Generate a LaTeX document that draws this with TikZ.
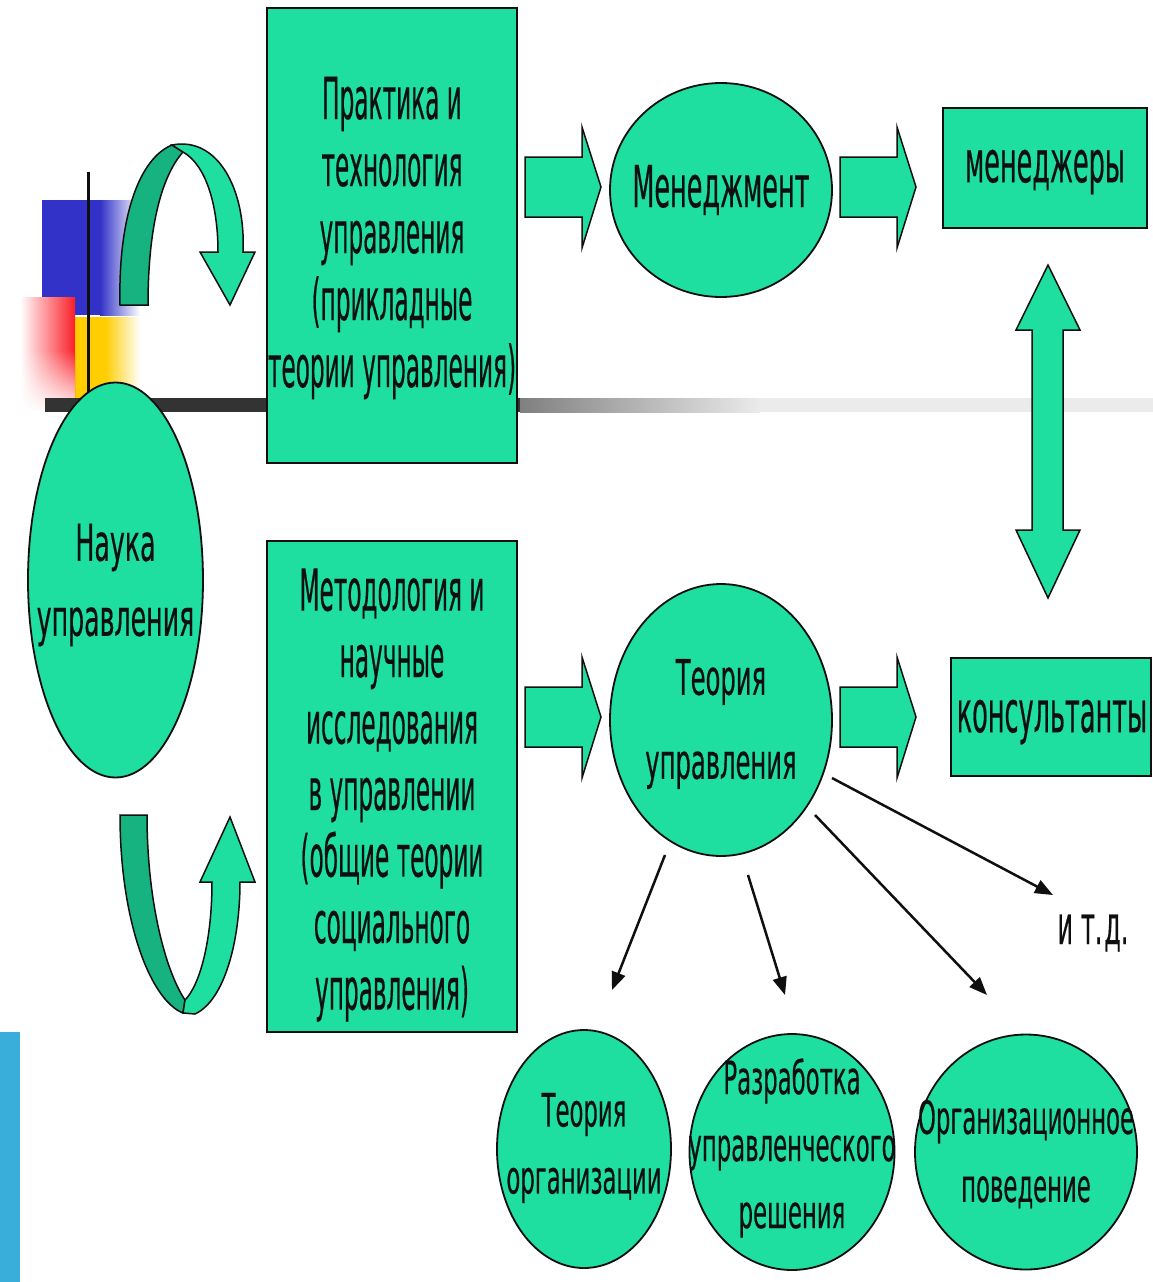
\documentclass[tikz,border=0pt]{standalone}
\usepackage{fontspec}
\setmainfont{DejaVu Sans}[FakeStretch=0.495,FakeBold=0.3]
\newfontfamily\FontBox{DejaVu Sans}[FakeStretch=0.40,FakeBold=0.3]
\newfontfamily\FontMen{DejaVu Sans}[FakeStretch=0.44,FakeBold=0.3]
\newfontfamily\FontCirc{DejaVu Sans}[FakeStretch=0.495,FakeBold=0.3]
\usetikzlibrary{shapes.geometric,arrows.meta,fadings}
\definecolor{mint}{RGB}{30,222,160}
\definecolor{mintdark}{RGB}{22,178,128}
\definecolor{ink}{RGB}{15,15,15}
\definecolor{dblue}{RGB}{50,50,200}
\definecolor{dred}{RGB}{250,30,40}
\definecolor{dyellow}{RGB}{255,205,0}
\definecolor{sideblue}{RGB}{58,174,219}
\begin{document}
\begin{tikzpicture}[x=1pt,y=-1pt,
  shapebox/.style={draw=ink, line width=1.8pt, fill=mint, rectangle, inner sep=0pt},
  oval/.style={draw=ink, line width=1.8pt, fill=mint, ellipse, inner sep=0pt},
  lbl/.style={text=ink, align=center, inner sep=0pt},
  blockarr/.style={draw=ink, line width=1.5pt, fill=mint, line join=miter},
  curvedark/.style={draw=ink, line width=1.5pt, fill=mintdark},
  thinarr/.style={draw=ink, line width=2.5pt, -{Triangle[length=18pt,width=14pt]}},
]
\fill[white] (0,0) rectangle (1153,1282);
\useasboundingbox (0,0) rectangle (1153,1282);

% side bar
\fill[sideblue] (0,1032) rectangle (20,1282);

% decoration squares
\fill[dblue] (42,200) rectangle (100,315);
\shade[left color=dblue, right color=white] (100,200) rectangle (140,315);
\fill[dyellow] (75,317) rectangle (105,420);
\shade[left color=dyellow, right color=white] (105,317) rectangle (140,420);
\shade[left color=white, right color=dred] (20,297) rectangle (75,410);
\fill[white, path fading=north] (20,350) rectangle (75,411);
\draw[ink, line width=3pt] (88,172) -- (88,400);
\fill[black!80] (45,398) rectangle (520,412);
\shade[left color=black!50, right color=black!8] (520,398) rectangle (760,412);
\fill[black!8] (760,398) rectangle (1153,412);

% curved arrows
\draw[curvedark] (120,305) .. controls (118,215) and (140,158) .. (172,145) -- (183,152) .. controls (160,178) and (148,232) .. (148,305) -- cycle;
\draw[blockarr] (172,145) .. controls (218,136) and (246,190) .. (243,252) -- (255,252) -- (230,305) -- (200,252) -- (218,252) .. controls (218,205) and (206,165) .. (183,152) -- cycle;

\draw[curvedark] (120,815) .. controls (120,920) and (150,1000) .. (183,1013) -- (185,1000) .. controls (165,970) and (147,900) .. (147,815) -- cycle;
\draw[blockarr] (183,1013) -- (195,1014) .. controls (225,1000) and (240,940) .. (240,882) -- (255,882) -- (230,817) -- (200,882) -- (212,882) .. controls (212,940) and (200,985) .. (185,1000) -- cycle;

% main nodes
\node[oval, minimum width=175pt, minimum height=395pt] (nauka) at (115.5,580) {};
\node[lbl, font=\FontCirc\fontsize{51}{75}\selectfont] (naukat) at (115.5,585) {Наука\\управления};

\node[shapebox, minimum width=250pt, minimum height=455pt] (prak) at (392,235.5) {};
\node[lbl, font=\FontBox\fontsize{58}{67}\selectfont] (prakt) at (392,238) {Практика и\\технология\\управления\\(прикладные\\теории управления)};

\node[shapebox, minimum width=250pt, minimum height=491pt] (metod) at (392,786.5) {};
\node[lbl, font=\FontBox\fontsize{58}{66.5}\selectfont] (metodt) at (392,795) {Методология и\\научные\\исследования\\в управлении\\(общие теории\\социального\\управления)};

\node[oval, minimum width=222pt, minimum height=214pt] (men) at (721,190) {};
\node[lbl, font=\FontMen\fontsize{58}{60}\selectfont] (ment) at (721,190) {Менеджмент};

\node[shapebox, minimum width=204pt, minimum height=120pt] (mgr) at (1045,168) {};
\node[lbl, font=\FontMen\fontsize{58}{60}\selectfont] (mgrt) at (1045,172) {менеджеры};

\node[oval, minimum width=222pt, minimum height=272pt] (teor) at (721,720) {};
\node[lbl, font=\FontCirc\fontsize{49}{84}\selectfont] (teort) at (721,724) {Теория\\управления};

\node[shapebox, minimum width=200pt, minimum height=118pt] (kons) at (1051,717) {};
\node[lbl, font=\FontMen\fontsize{58}{60}\selectfont] (konst) at (1052,722) {консультанты};

\node[oval, minimum width=174pt, minimum height=238pt] (c1) at (584,1149) {};
\node[lbl, font=\FontCirc\fontsize{46}{67}\selectfont] (c1t) at (584,1148) {Теория\\организации};
\node[oval, minimum width=205pt, minimum height=236pt] (c2) at (792,1152) {};
\node[lbl, font=\FontCirc\fontsize{46}{67}\selectfont] (c2t) at (792,1148) {Разработка\\управленческого\\решения};
\node[oval, minimum width=222pt, minimum height=235pt] (c3) at (1026,1152) {};
\node[lbl, font=\FontCirc\fontsize{46}{68}\selectfont] (c3t) at (1026,1154) {Организационное\\поведение};

\node[lbl, font=\FontMen\fontsize{54}{60}\selectfont] (etc) at (1093,933) {и\hspace{8pt}т.\hspace{2pt}д.};

% block arrows
\coordinate (a1) at (525,187);
\coordinate (a2) at (840,187);
\coordinate (a3) at (525,717);
\coordinate (a4) at (840,717);
\foreach \p in {a1,a2,a3,a4}{
  \draw[blockarr] (\p) ++(0,-30) -- ++(57,0) -- ++(0,-30) -- ++(19,60) -- ++(-19,61) -- ++(0,-31) -- ++(-57,0) -- cycle;
}
\coordinate (dtop) at (1048,265);
\draw[blockarr] (dtop) -- (1080,330) -- (1063,330) -- (1063,530) -- (1080,530) -- (1048,598) -- (1016,530) -- (1032,530) -- (1032,330) -- (1016,330) -- cycle;

% thin arrows
\coordinate (t1s) at (665,855); \coordinate (t1e) at (612,990);
\coordinate (t2s) at (748,875); \coordinate (t2e) at (785,995);
\coordinate (t3s) at (815,815); \coordinate (t3e) at (987,995);
\coordinate (t4s) at (832,778); \coordinate (t4e) at (1053,895);
\draw[thinarr] (t1s) -- (t1e);
\draw[thinarr] (t2s) -- (t2e);
\draw[thinarr] (t3s) -- (t3e);
\draw[thinarr] (t4s) -- (t4e);
\end{tikzpicture}
\end{document}
